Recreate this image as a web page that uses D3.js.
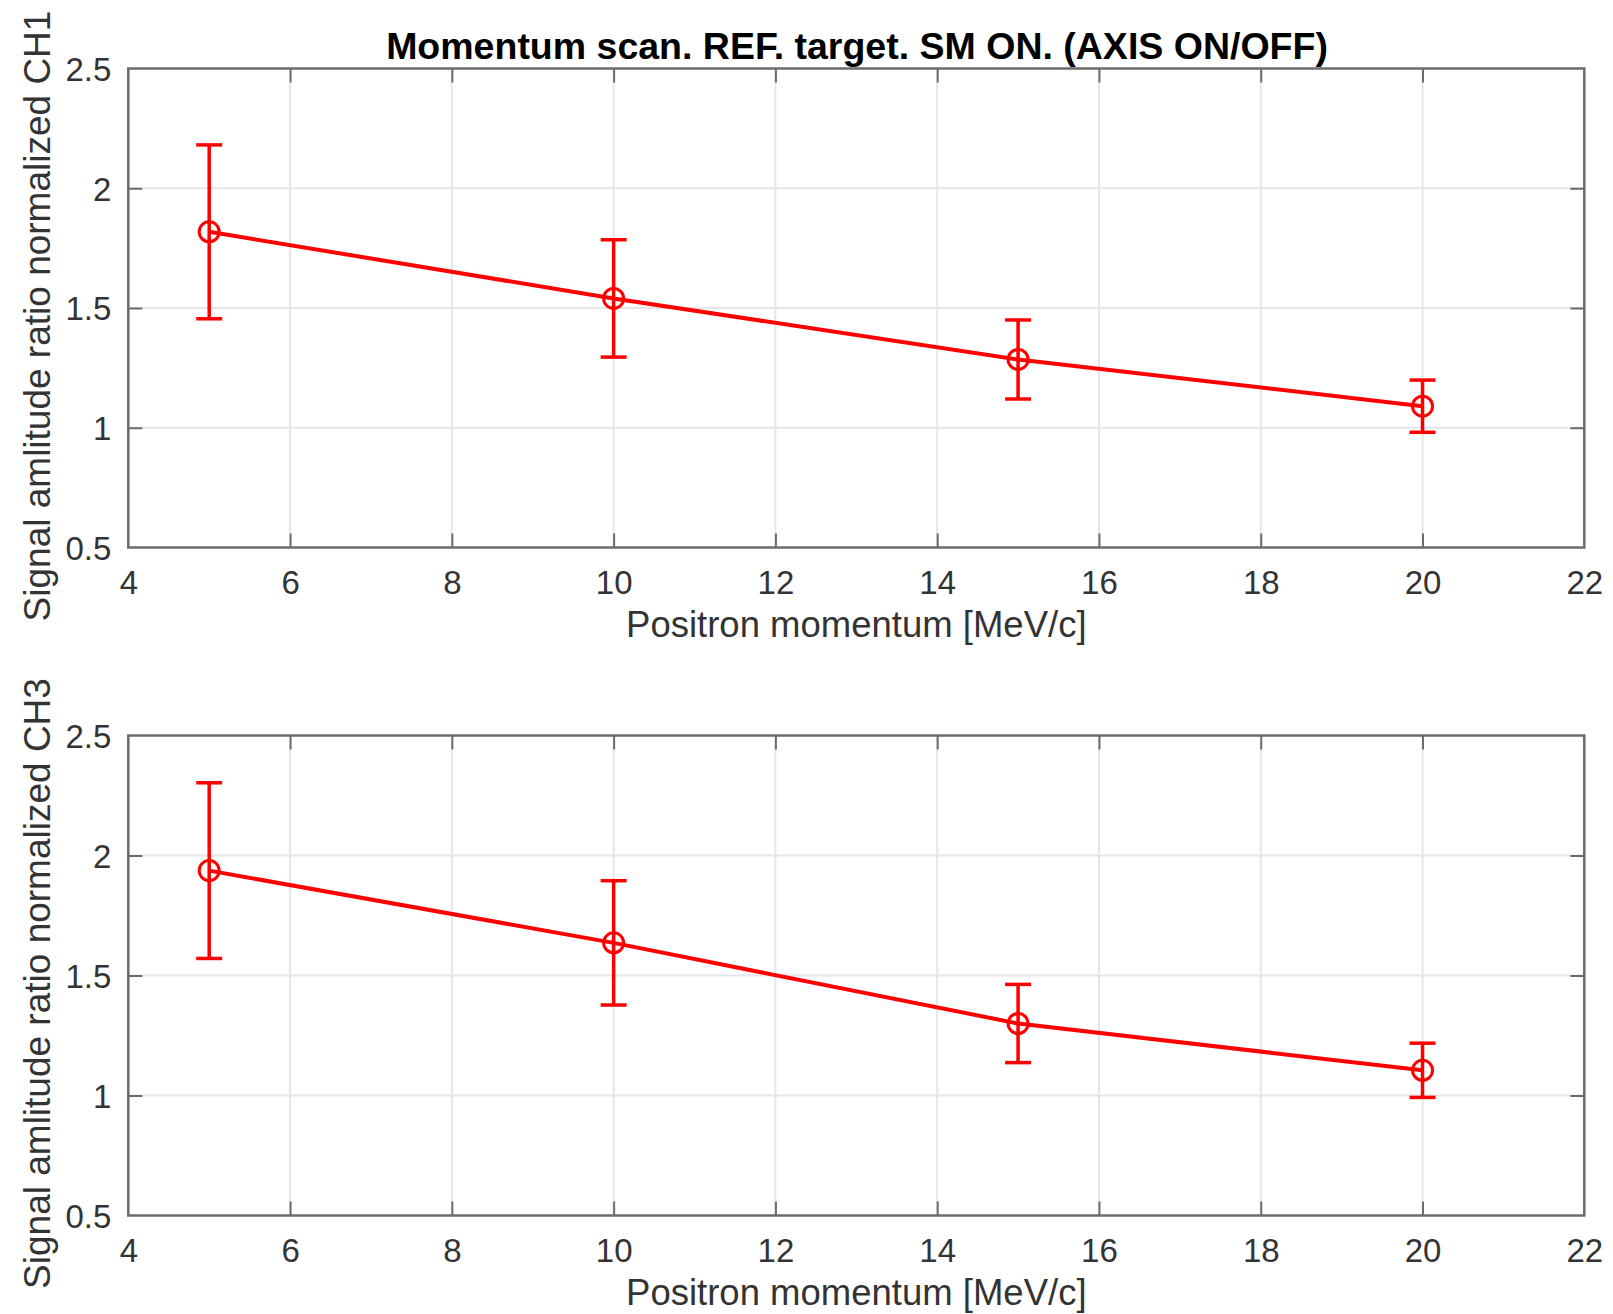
<!DOCTYPE html>
<html>
<head>
<meta charset="utf-8">
<script src="https://cdn.jsdelivr.net/npm/d3@7"></script>
<style>
  body { margin: 0; background: #fff; }
  svg { display: block; font-family: "Liberation Sans", Arial, Helvetica, sans-serif; }
</style>
</head>
<body>
<svg id="chart" width="1613" height="1314"></svg>
<script>
// momentum points (MeV/c)
let momentum = [5, 10, 15, 20];

// CH1 normalized ratio and its error
let ch1Ratio = [1.818, 1.540, 1.285, 1.090];
let ch1Err = [0.363, 0.245, 0.165, 0.109];

// CH3 normalized ratio and its error
let ch3Ratio = [1.937, 1.636, 1.300, 1.105];
let ch3Err = [0.366, 0.259, 0.163, 0.113];

let xTicks = [4, 6, 8, 10, 12, 14, 16, 18, 20, 22];
let yTicks = [0.5, 1, 1.5, 2, 2.5];
let yTickLabels = ["0.5", "1", "1.5", "2", "2.5"];

let titleText = "Momentum scan. REF. target. SM ON. (AXIS ON/OFF)";
let xLabelText = "Positron momentum [MeV/c]";

let svgsel = d3.select("#chart");
svgsel.append("rect").attr("width", 1613).attr("height", 1314).attr("fill", "#fff");

function drawPanel(top, bottom, values, errs, yLabelText) {
  let left = 128.3, right = 1584.3;
  let tickLen = 14;
  let axisColor = "#6b6b6b";
  let textColor = "#333";

  let xScale = d3.scaleLinear().domain([4, 22]).range([left, right]);
  let yScale = d3.scaleLinear().domain([0.5, 2.5]).range([bottom, top]);

  let g = svgsel.append("g");

  /* ========== GRID ========== */
  g.append("g").selectAll("line").data(xTicks.slice(1, -1)).join("line")
    .attr("x1", d => xScale(d)).attr("x2", d => xScale(d))
    .attr("y1", top).attr("y2", bottom)
    .attr("stroke", "#e6e6e6").attr("stroke-width", 2);

  g.append("g").selectAll("line").data(yTicks.slice(1, -1)).join("line")
    .attr("x1", left).attr("x2", right)
    .attr("y1", d => yScale(d)).attr("y2", d => yScale(d))
    .attr("stroke", "#e6e6e6").attr("stroke-width", 2);

  /* ========== AXES ========== */
  let xAxisB = d3.axisBottom(xScale).tickValues(xTicks).tickSize(-tickLen).tickPadding(20);
  let xAxisT = d3.axisTop(xScale).tickValues(xTicks).tickSize(-tickLen).tickFormat("");
  let yAxisL = d3.axisLeft(yScale).tickValues(yTicks).tickSize(-tickLen).tickPadding(4)
    .tickFormat((d, i) => yTickLabels[i]);
  let yAxisR = d3.axisRight(yScale).tickValues(yTicks).tickSize(-tickLen).tickFormat("");

  let axB = g.append("g").attr("transform", "translate(0," + bottom + ")").call(xAxisB);
  let axT = g.append("g").attr("transform", "translate(0," + top + ")").call(xAxisT);
  let axL = g.append("g").attr("transform", "translate(" + left + ",0)").call(yAxisL);
  let axR = g.append("g").attr("transform", "translate(" + right + ",0)").call(yAxisR);

  [axB, axT, axL, axR].forEach(a => {
    a.select(".domain").remove();
    a.selectAll(".tick line").attr("stroke", axisColor).attr("stroke-width", 2);
    a.selectAll(".tick text").attr("fill", textColor).style("font-size", "33px")
      .style("font-family", "'Liberation Sans', Arial, sans-serif");
  });
  axB.selectAll(".tick text").attr("dy", null).attr("y", 46);
  axL.selectAll(".tick text").attr("dy", "0.36em").attr("x", -17);
  axB.selectAll(".tick").filter(d => d == 4 || d == 22).select("line").remove();
  axT.selectAll(".tick").filter(d => d == 4 || d == 22).select("line").remove();
  axL.selectAll(".tick").filter(d => d == 0.5 || d == 2.5).select("line").remove();
  axR.selectAll(".tick").filter(d => d == 0.5 || d == 2.5).select("line").remove();

  g.append("rect")
    .attr("x", left).attr("y", top)
    .attr("width", right - left).attr("height", bottom - top)
    .attr("fill", "none").attr("stroke", axisColor).attr("stroke-width", 2.5);

  /* ========== LABELS ========== */
  g.append("text")
    .attr("x", (left + right) / 2).attr("y", bottom + 89)
    .attr("text-anchor", "middle").attr("fill", textColor)
    .style("font-size", "36.5px").text(xLabelText);

  g.append("text")
    .attr("transform", "translate(50," + ((top + bottom) / 2 + 8) + ") rotate(-90)")
    .attr("text-anchor", "middle").attr("fill", textColor)
    .style("font-size", "37px").text(yLabelText);

  /* ========== DATA ========== */
  let red = "#ff0000";
  let pts = momentum.map((m, i) => ({ x: m, y: values[i], e: errs[i] }));

  let lineGen = d3.line().x(d => xScale(d.x)).y(d => yScale(d.y));
  g.append("path").datum(pts)
    .attr("d", lineGen)
    .attr("fill", "none").attr("stroke", red).attr("stroke-width", 4);

  let capHalf = 13;
  let eb = g.append("g").attr("stroke", red).attr("stroke-width", 3.5);
  eb.selectAll("line.v").data(pts).join("line").attr("class", "v")
    .attr("x1", d => xScale(d.x)).attr("x2", d => xScale(d.x))
    .attr("y1", d => yScale(d.y - d.e)).attr("y2", d => yScale(d.y + d.e));
  eb.selectAll("line.t").data(pts).join("line").attr("class", "t")
    .attr("x1", d => xScale(d.x) - capHalf).attr("x2", d => xScale(d.x) + capHalf)
    .attr("y1", d => yScale(d.y + d.e)).attr("y2", d => yScale(d.y + d.e));
  eb.selectAll("line.b").data(pts).join("line").attr("class", "b")
    .attr("x1", d => xScale(d.x) - capHalf).attr("x2", d => xScale(d.x) + capHalf)
    .attr("y1", d => yScale(d.y - d.e)).attr("y2", d => yScale(d.y - d.e));

  g.append("g").selectAll("circle").data(pts).join("circle")
    .attr("cx", d => xScale(d.x)).attr("cy", d => yScale(d.y))
    .attr("r", 10)
    .attr("fill", "none").attr("stroke", red).attr("stroke-width", 3);
}

drawPanel(68.5, 547.5, ch1Ratio, ch1Err, "Signal amlitude ratio normalized CH1");
drawPanel(735.5, 1215.5, ch3Ratio, ch3Err, "Signal amlitude ratio normalized CH3");

svgsel.append("text")
  .attr("x", 857).attr("y", 59)
  .attr("text-anchor", "middle").attr("fill", "#000")
  .style("font-size", "37.5px").style("font-weight", "bold")
  .text(titleText);
</script>
</body>
</html>
